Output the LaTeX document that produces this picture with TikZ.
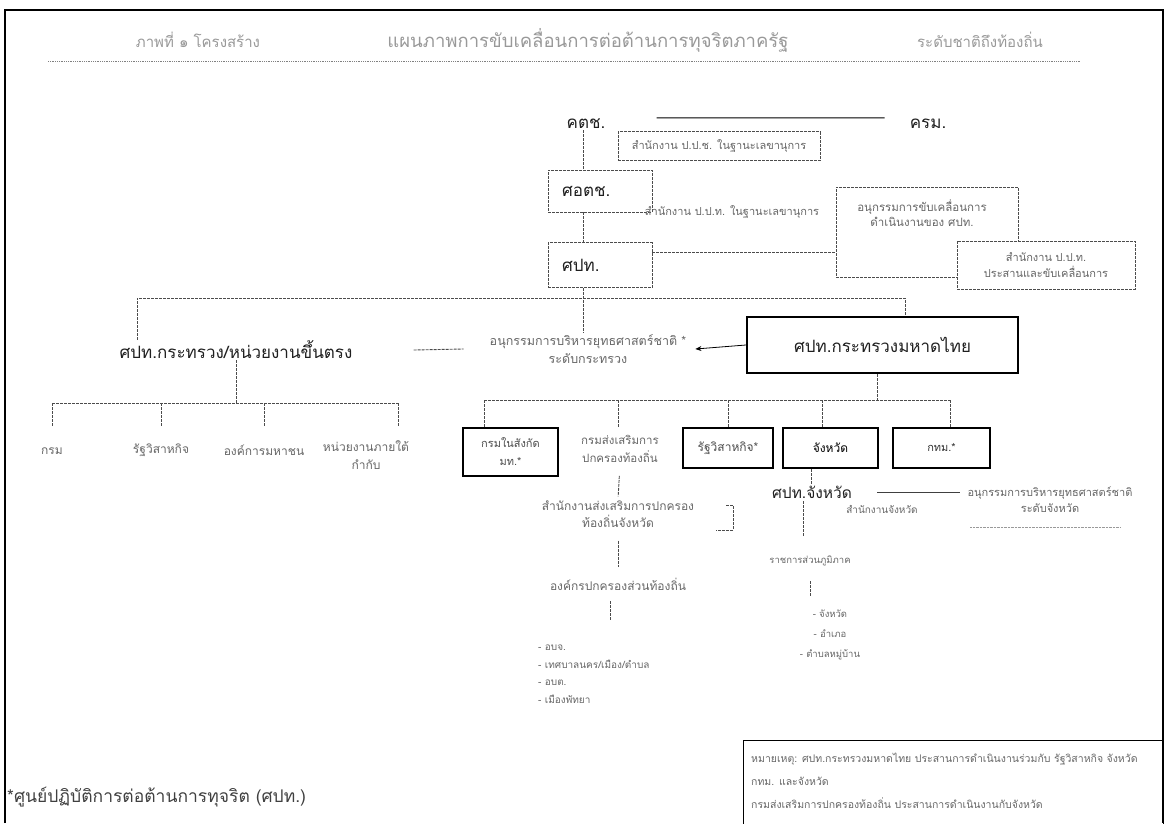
\documentclass[tikz,border=0pt]{standalone}
\usepackage{fontspec}
\newfontfamily\thai[Script=Thai]{Loma}
\usetikzlibrary{arrows.meta}
\newcommand{\fs}[2]{\thai\fontsize{#1}{#2}\selectfont}
\begin{document}
\begin{tikzpicture}[x=1pt,y=-1pt,
  big/.style={font=\fs{17}{20}, text=black!88, inner sep=1pt},
  mid/.style={font=\fs{12}{15}, inner sep=1pt},
  sm/.style={font=\fs{11}{16}, text=black!60, inner sep=1pt, align=center},
  conn/.style={line width=0.9pt, draw=black!70, dash pattern=on 3pt off 1pt},
  dbox/.style={draw=black!70, line width=0.9pt, dash pattern=on 3pt off 1pt},
  tbox/.style={draw=black, line width=2.4pt},
  ttl/.style={text=black!40, inner sep=1pt}]
\useasboundingbox (0,0) rectangle (1170,823);
% frame
\draw[line width=1.6pt] (5,823) -- (5,10) -- (1163,10) -- (1163,823);
% title
\node[ttl, font=\fs{15}{17}] (ttlL) at (198,40) {ภาพที่ ๑ โครงสร้าง};
\node[ttl, font=\fs{18.5}{20}] (ttlC) at (588,40) {แผนภาพการขับเคลื่อนการต่อต้านการทุจริตภาครัฐ};
\node[ttl, font=\fs{15}{17}] (ttlR) at (980,40) {ระดับชาติถึงท้องถิ่น};
\draw[black!50, densely dotted, line width=0.8pt] (48,61) -- (1080,61);
% top level
\coordinate (sp) at (583,0);
\node[big] (kcc) at (586,124) {คตช.};
\node[big] (krm) at (928,124) {ครม.};
\draw[line width=1pt] ([xshift=50pt]kcc.north east) -- ([xshift=-24pt]krm.north west);
\node[dbox, sm, minimum width=202, minimum height=29] (sec1) at (719,146) {สำนักงาน ป.ป.ช. ในฐานะเลขานุการ};
\node[dbox, big, minimum width=104, minimum height=42, text width=96, align=left] (sotc) at (600,191) {\hspace*{10pt}ศอตช.};
\node[sm] (sec2) at (732,212) {สำนักงาน ป.ป.ท. ในฐานะเลขานุการ};
\node[dbox, big, minimum width=104, minimum height=45, text width=96, align=left] (spt) at (600,265) {\hspace*{10pt}ศปท.};
\draw[conn] (kcc.south -| sp) -- (sotc.north -| sp);
\draw[conn] (sotc.south -| sp) -- (spt.north -| sp);
\node[dbox, minimum width=182, minimum height=90] (anu) at (927,232) {};
\node[sm, font=\fs{11.5}{15}] (anut) at (922,213) {อนุกรรมการขับเคลื่อนการ\\ดำเนินงานของ ศปท.};
\node[dbox, sm, fill=white, minimum width=178, minimum height=48] (ppt) at (1046,265) {สำนักงาน ป.ป.ท.\\ประสานและขับเคลื่อนการ};
\draw[conn] ([yshift=13pt]spt.east) -- ([yshift=13pt]spt.east -| anu.west);
% second level
\node[big] (min) at (236,350) {ศปท.กระทรวง/หน่วยงานขึ้นตรง};
\node[sm, font=\fs{12.5}{18}] (sub) at (588,349) {อนุกรรมการบริหารยุทธศาสตร์ชาติ *\\ระดับกระทรวง};
\node[tbox, big, minimum width=271, minimum height=56] (moi) at (882.5,345) {ศปท.กระทรวงมหาดไทย};
\draw[conn] (min.north -| 137,0) -- (137,298) -- (905,298) -- (moi.north -| 905,0);
\draw[conn] (spt.south -| sp) -- (sub.north -| sp);
\draw[conn] ([xshift=60pt]min.east) -- ([xshift=-25pt]sub.west);
\draw[-{Stealth[length=6pt,width=5pt]}, line width=0.8pt] (moi.west) -- ([xshift=8pt]sub.east);
% left tree
\node[sm, font=\fs{12}{18}] (l1) at (52,451) {กรม};
\node[sm, font=\fs{12}{18}] (l2) at (161,450) {รัฐวิสาหกิจ};
\node[sm, font=\fs{12}{18}] (l3) at (264,450) {องค์การมหาชน};
\node[sm, font=\fs{12}{18}, anchor=north] (l4) at (366,440) {หน่วยงานภายใต้\\กำกับ};
\draw[conn] (min.south) -- (min.south |- 0,403);
\draw[conn] (l1.north |- 0,403) -- (398,403);
\draw[conn] (l1.north |- 0,403) -- (l1.north |- 0,427);
\draw[conn] (l2.north |- 0,403) -- (l2.north |- 0,427);
\draw[conn] (l3.north |- 0,403) -- (l3.north |- 0,427);
\draw[conn] (398,403) -- (398,427);
% right tree
\node[tbox, sm, text=black!70, minimum width=95, minimum height=48, font=\fs{11}{18}] (b1) at (510.5,452) {กรมในสังกัด\\มท.*};
\node[sm, font=\fs{11.5}{18}] (b2) at (620,449) {กรมส่งเสริมการ\\ปกครองท้องถิ่น};
\node[tbox, sm, text=black!70, minimum width=90, minimum height=40, font=\fs{12}{15}] (b3) at (728,448) {รัฐวิสาหกิจ*};
\node[tbox, mid, minimum width=95, minimum height=40] (b4) at (830.5,448) {จังหวัด};
\node[tbox, sm, text=black!80, font=\fs{11}{13}, minimum width=97, minimum height=40] (b5) at (941.5,448) {กทม.*};
\draw[conn] (moi.south -| 877,0) -- (877,400);
\draw[conn] (484,400) -- (950,400);
\draw[conn] (484,400) -- (b1.north -| 484,0);
\draw[conn] (618,400) -- (618,427);
\draw[conn] (728,400) -- (b3.north);
\draw[conn] (822,400) -- (b4.north -| 822,0);
\draw[conn] (950,400) -- (b5.north -| 950,0);
% province
\node[big, font=\fs{15.5}{18}] (pj) at (812,492) {ศปท.จังหวัด};
\node[sm, font=\fs{11}{16}] (ap) at (1050,500) {อนุกรรมการบริหารยุทธศาสตร์ชาติ\\ระดับจังหวัด};
\draw[line width=0.9pt, black!75, shorten <=24pt, shorten >=6pt] (pj.east) -- ([yshift=8pt]ap.west);
\draw[black!40, densely dotted] (970,527) -- (1120,527);
\node[sm, font=\fs{10}{14}] (po) at (882,509) {สำนักงานจังหวัด};
\draw[conn] (b4.south -| 811,0) -- (pj.north -| 811,0);
\node[sm, font=\fs{9.5}{14}] (rg) at (810,561) {ราชการส่วนภูมิภาค};
\draw[conn, shorten <=2pt, shorten >=18pt] (pj.south -| 803,0) -- (rg.north -| 803,0);
\node[sm, font=\fs{9.5}{20}] (rl) at (830,635) {- จังหวัด\\- อำเภอ\\- ตำบลหมู่บ้าน};
\draw[conn, shorten <=14pt, shorten >=12pt] (rg.south -| 810,0) -- (rl.north -| 810,0);
% local
\node[sm, font=\fs{12}{17}] (dl) at (618,514) {สำนักงานส่งเสริมการปกครอง\\ท้องถิ่นจังหวัด};
\draw[conn, shorten <=12pt, shorten >=3pt] (b2.south) -- (dl.north);
\coordinate (bk1) at (726,505);
\coordinate (bk2) at (733,530);
\coordinate (bk3) at (716,530);
\draw[conn] (bk1) -- (bk1 -| bk2) -- (bk2) -- (bk3);
\node[sm, font=\fs{12}{15}] (lo) at (618,584) {องค์กรปกครองส่วนท้องถิ่น};
\draw[conn, shorten <=12pt, shorten >=10pt] (dl.south) -- (lo.north);
\node[sm, align=left, anchor=north west, font=\fs{10}{17.5}] (ll) at (537,644) {- อบจ.\\- เทศบาลนคร/เมือง/ตำบล\\- อบต.\\- เมืองพัทยา};
\draw[conn, shorten <=10pt, shorten >=24pt] (lo.south -| 610,0) -- (ll.north -| 610,0);
% note box
\node[draw, line width=1.2pt, anchor=north west, minimum width=420, minimum height=90] (note) at (743,740) {};
\node[sm, align=left, anchor=north west, font=\fs{10.5}{23}] (notet) at (750,752) {หมายเหตุ: ศปท.กระทรวงมหาดไทย ประสานการดำเนินงานร่วมกับ รัฐวิสาหกิจ จังหวัด\\กทม. และจังหวัด\\กรมส่งเสริมการปกครองท้องถิ่น ประสานการดำเนินงานกับจังหวัด};
% footnote
\node[anchor=west, inner sep=1pt, text=black!75, font=\fs{17.5}{19}] (fn) at (6,797) {*ศูนย์ปฏิบัติการต่อต้านการทุจริต (ศปท.)};
\end{tikzpicture}
\end{document}
